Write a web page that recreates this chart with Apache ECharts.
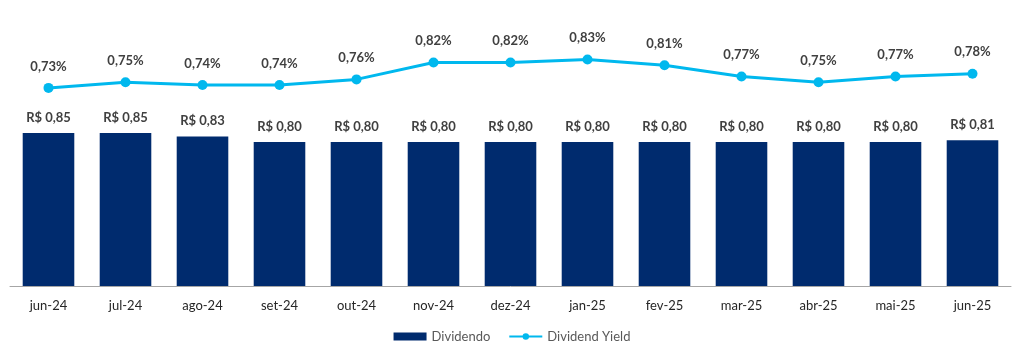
<!DOCTYPE html>
<html>
<head>
<meta charset="utf-8">
<script src="https://cdn.jsdelivr.net/npm/echarts@6/dist/echarts.min.js"></script>
<style>
  html, body { margin: 0; padding: 0; background: #fff; }
  #chart { width: 1024px; height: 352px; }
</style>
</head>
<body>
<div id="chart"></div>
<script>
// months, dividend per share (R$) and dividend yield (%)
const months = ['jun-24', 'jul-24', 'ago-24', 'set-24', 'out-24', 'nov-24', 'dez-24',
  'jan-25', 'fev-25', 'mar-25', 'abr-25', 'mai-25', 'jun-25'];
const dividendo = [0.85, 0.85, 0.83, 0.80, 0.80, 0.80, 0.80, 0.80, 0.80, 0.80, 0.80, 0.80, 0.81];
const dividendYield = [0.73, 0.75, 0.74, 0.74, 0.76, 0.82, 0.82, 0.83, 0.81, 0.77, 0.75, 0.77, 0.78];

const fmt = (v, d) => v.toFixed(d).replace('.', ',');

const chart = echarts.init(document.getElementById('chart'));

chart.setOption({
  animation: false,
  textStyle: { fontFamily: 'Lato, "Liberation Sans", sans-serif' },
  grid: { left: 10, right: 13, top: 16, bottom: 66 },
  legend: {
    bottom: 4,
    left: 'center',
    itemGap: 18,
    itemWidth: 33,
    itemHeight: 8,
    textStyle: { color: '#595959', fontSize: 13 },
    data: [
      { name: 'Dividendo', icon: 'rect' },
      { name: 'Dividend Yield' }
    ]
  },
  xAxis: {
    type: 'category',
    data: months,
    axisLine: { lineStyle: { color: '#A6A6A6', width: 1 } },
    axisTick: { show: false },
    axisLabel: { color: '#262626', fontSize: 13, margin: 13 }
  },
  yAxis: [
    { type: 'value', min: 0, max: 1.5, show: false, splitLine: { show: false } },
    { type: 'value', min: 0.03, max: 0.984, show: false, splitLine: { show: false } }
  ],
  series: [
    {
      name: 'Dividendo',
      type: 'bar',
      data: dividendo,
      yAxisIndex: 0,
      barCategoryGap: '33%',
      itemStyle: { color: '#002B6E' },
      label: {
        show: true,
        position: 'top',
        distance: 9,
        color: '#404040',
        fontSize: 13,
        fontWeight: 'bold',
        formatter: p => 'R$ ' + fmt(p.value, 2)
      }
    },
    {
      name: 'Dividend Yield',
      type: 'line',
      data: dividendYield,
      yAxisIndex: 1,
      symbol: 'circle',
      symbolSize: 10,
      lineStyle: { color: '#00B8EE', width: 3 },
      itemStyle: { color: '#00B8EE' },
      label: {
        show: true,
        position: 'top',
        distance: 10,
        color: '#404040',
        fontSize: 13,
        fontWeight: 'bold',
        formatter: p => fmt(p.value, 2) + '%'
      }
    }
  ]
});
</script>
</body>
</html>
